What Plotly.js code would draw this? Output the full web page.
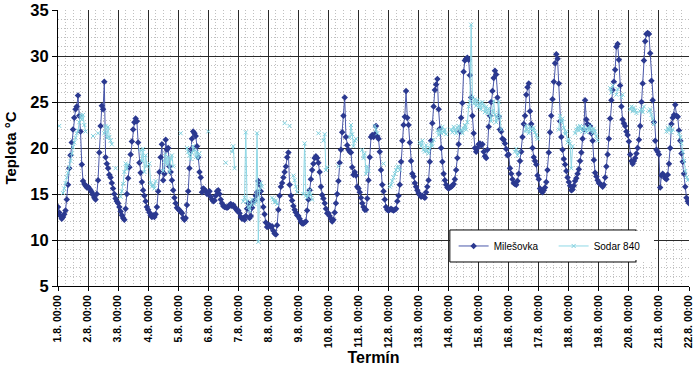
<!DOCTYPE html>
<html>
<head>
<meta charset="utf-8">
<script src="https://cdn.plot.ly/plotly-3.0.1.min.js"></script>
<style>html,body{margin:0;padding:0;background:#fff;}#chart{width:699px;height:366px;}</style>
</head>
<body>
<div id="chart"></div>
<script>
// Tick labels (one per day, hourly data)
const dayLabels = ["1.8. 00:00","2.8. 00:00","3.8. 00:00","4.8. 00:00","5.8. 00:00","6.8. 00:00","7.8. 00:00","8.8. 00:00","9.8. 00:00","10.8. 00:00","11.8. 00:00","12.8. 00:00","13.8. 00:00","14.8. 00:00","15.8. 00:00","16.8. 00:00","17.8. 00:00","18.8. 00:00","19.8. 00:00","20.8. 00:00","21.8. 00:00","22.8. 00:00"];

// Milešovka hourly temperatures, day by day
const mil01 = [13.6,13.0,12.6,12.3,12.5,12.8,13.2,14.4,16.0,17.8,19.2,20.6,22.0,23.3,24.2,24.5,25.7,23.5,21.8,18.2,16.4,16.1,15.9,15.7];
const mil02 = [15.8,15.6,15.4,15.2,14.9,14.6,14.4,15.0,16.5,19.5,22.4,24.6,24.2,27.2,19.0,18.3,17.8,17.1,16.8,16.2,15.6,15.0,14.5,14.2];
const mil03 = [14.0,13.6,13.1,12.7,12.4,12.2,13.4,15.0,16.7,17.9,19.3,20.7,22.0,22.8,23.2,22.9,20.6,18.4,17.3,16.3,15.4,14.8,14.2,13.6];
const mil04 = [13.3,13.0,12.7,12.5,12.7,12.5,12.8,13.6,15.3,17.4,19.0,20.4,16.5,17.2,20.9,19.8,20.0,18.0,17.4,16.5,15.4,14.6,14.0,13.5];
const mil05 = [13.4,13.2,13.1,12.9,12.4,12.2,12.4,13.8,15.3,17.8,19.8,21.0,21.8,21.6,21.3,20.2,19.0,17.4,16.8,15.2,15.6,15.5,15.3,15.0];
const mil06 = [15.2,15.3,14.7,14.4,14.2,14.3,14.8,15.3,15.4,15.0,14.4,14.0,13.7,13.6,13.6,13.5,13.6,13.8,13.9,13.7,13.8,13.6,13.4,13.2];
const mil07 = [13.2,12.9,12.5,12.3,12.4,12.2,12.6,13.4,14.0,12.4,12.6,13.5,14.2,14.3,14.8,15.2,16.4,16.0,15.3,14.4,13.6,12.8,11.9,11.4];
const mil08 = [11.5,11.6,11.4,11.5,11.0,10.7,10.6,11.6,13.3,14.8,15.8,16.2,16.8,17.4,18.0,19.0,19.5,16.0,14.8,14.3,13.7,13.3,13.0,12.7];
const mil09 = [12.6,12.3,12.0,11.8,11.8,11.9,12.0,13.2,14.4,15.4,16.6,17.6,18.3,18.9,19.1,18.9,18.4,17.4,15.8,14.9,14.5,14.0,13.4,12.9];
const mil10 = [12.9,12.6,12.3,12.0,12.2,13.0,14.0,15.0,16.4,18.4,19.8,21.7,23.5,25.5,21.2,20.3,19.8,19.6,19.5,17.9,17.1,17.4,17.0,15.8];
const mil11 = [15.6,15.2,14.6,14.0,13.6,13.3,13.3,14.5,16.5,19.0,21.2,21.4,21.2,21.5,22.4,21.3,21.0,19.6,17.6,16.0,15.3,14.4,13.6,13.3];
const mil12 = [13.2,13.3,13.4,13.3,13.2,13.3,13.4,14.2,14.8,16.0,18.5,20.8,22.5,23.4,26.2,23.3,22.5,20.6,18.6,17.2,16.9,16.2,15.8,15.4];
const mil13 = [15.1,14.9,14.7,14.8,14.7,14.6,15.2,15.8,16.5,18.5,20.8,22.7,24.5,26.3,26.9,27.5,24.2,22.1,20.0,18.5,17.2,16.5,16.0,15.7];
const mil14 = [15.6,15.7,15.8,15.9,16.1,16.6,17.6,18.9,20.4,21.8,23.3,24.9,28.3,29.5,29.7,29.8,29.6,27.9,25.5,23.5,21.6,20.0,19.6,20.0];
const mil15 = [20.4,20.5,20.3,20.4,19.6,19.1,18.9,19.8,22.3,23.5,25.0,26.2,27.6,28.4,28.0,25.5,23.4,22.0,21.8,21.0,20.9,20.5,19.9,19.2];
const mil16 = [19.3,17.8,17.2,16.6,16.2,16.1,16.0,16.4,17.2,18.6,19.6,21.2,22.6,23.5,25.8,26.6,27.0,24.0,22.6,20.0,19.0,18.6,18.2,17.0];
const mil17 = [16.6,15.6,15.3,15.2,15.4,15.7,16.3,17.6,19.5,21.7,23.5,25.3,27.2,29.2,30.2,29.7,27.0,22.9,21.2,19.8,18.8,18.2,17.5,16.8];
const mil18 = [16.3,15.9,15.4,15.5,15.9,16.4,16.7,17.2,17.7,18.6,19.5,21.0,22.0,25.2,23.1,22.6,22.4,22.4,21.6,20.8,18.7,17.3,16.9,16.5];
const mil19 = [16.2,16.1,16.0,15.8,16.0,16.8,18.0,19.3,21.0,23.2,25.2,26.3,27.2,28.5,31.0,31.3,29.6,26.8,24.5,23.1,22.7,22.4,21.8,21.4];
const mil20 = [20.7,19.3,18.6,18.3,18.6,18.9,19.4,20.0,20.9,22.4,25.0,27.0,29.5,31.6,32.4,32.5,32.4,30.3,27.3,25.2,22.8,20.8,19.8,19.6];
const mil21 = [19.3,15.7,17.0,17.2,17.0,16.7,16.6,17.1,18.3,20.0,22.6,23.3,23.6,24.7,23.5,23.4,21.9,20.8,19.4,18.5,17.2,15.8,14.6,14.2];
const milLast = [14.0];

// Sodar 840: start hour of each measured run, and the run's values
const sodarStart = [1,4,28,32,37,46,50,66,73,84,98,103,120,134,139,148,157,171,181,185,188,196,208,212,224,233,243,253,260,265,289,303,314,327,352,365,373,400,413,441,446,450,457,465,472,486,496];
const sodarRuns = [
 [22.4],
 [15.1,15.6,16.2,16.8,17.3,17.9,18.6,19.4,20.1,20.6,21.1,21.6,21.9,22.8,23.6,23.1,23.6,22.5,21.8],
 [21.3],
 [21.6],
 [21.6,22.4,21.1,22.3,21.2,20.8,20.4],
 [17.8],
 [14.7,15.3,16.1,17.4,18.3,17.7,18.2],
 [19.8,18.6,19.9,17.4,19.2,18.0],
 [18.3,16.2,15.8,16.0,15.6,16.4],
 [17.5,18.6,19.3,18.2,19.0,17.4,18.8,19.2,18.0],
 [21.6],
 [20.0,19.6,19.2,18.8,19.5,20.2,19.8,19.0,19.6,18.9,19.4],
 [21.8],
 [18.4],
 [19.6,20.2,17.8],
 [14.2,14.6,21.7,14.2,13.6,13.2,13.8,14.4],
 [13.9,14.3,21.6,9.8,15.4,16.2,15.8],
 [14.6,14.4,14.1,14.3,13.9],
 [22.7],
 [22.4],
 [17.0,16.5,15.8,15.2],
 [15.0,20.5,14.8,14.6,15.0,15.4,14.9,14.4],
 [21.6],
 [20.8,21.5,17.6,17.9],
 [18.0],
 [21.2,22.5,21.5,20.2,20.8,21.0],
 [19.8,18.9,19.4,17.2,18.0,17.5],
 [22.4,22.0,21.6],
 [18.3],
 [15.8,16.0,16.4,16.8,17.2,17.6,17.9,18.0,17.6],
 [20.6,20.2,20.8,19.8,19.6,20.3,19.7,19.4,20.0,20.5,20.2,20.9],
 [21.9,21.4,22.0,21.6,22.3,21.7,22.0,21.5],
 [22.0,21.7,22.3,21.9,21.6,22.2,22.4,21.8,22.0,21.6,22.1,22.5,22.0],
 [22.8,24.5,25.0,33.4,25.5,24.8,25.3,24.6,25.2,24.4,24.9,24.2,25.0,24.6,23.9,24.5,23.8,24.3,23.5,22.9,24.0,25.1,23.6,22.8,23.2],
 [25.0,23.4,22.0],
 [19.6,19.9,19.2,19.5],
 [21.8,22.4,22.0,21.6,22.3,22.1,21.9,22.2,21.7,21.4,21.0],
 [22.0,23.5,22.8,23.2,22.2,21.5,21.8,20.6,21.0,20.5,17.8,20.2],
 [21.6,22.0,22.3,21.9,22.4,22.1,21.8,22.3,22.0,21.7,22.2,21.9,22.4,22.0,21.6,22.1,21.8,21.3,20.8],
 [26.5,26.0,26.8],
 [25.8,26.4],
 [25.5,25.8],
 [24.2,24.5,24.0,24.4,24.1,23.8],
 [24.0,24.2,23.9,24.5],
 [24.0,24.2,23.6,23.2,22.6],
 [21.8,22.2,21.9,22.3,21.7,22.0],
 [21.6,21.2,20.5,19.6,18.6,17.5,16.8,16.5,16.6]
];

const milesovka = [].concat(mil01,mil02,mil03,mil04,mil05,mil06,mil07,mil08,mil09,mil10,mil11,mil12,mil13,mil14,mil15,mil16,mil17,mil18,mil19,mil20,mil21,milLast);
const hours = milesovka.map((_, i) => i);
const sodar = hours.map(() => null);
sodarStart.forEach((s, k) => sodarRuns[k].forEach((v, j) => { sodar[s + j] = v; }));
const tickHours = dayLabels.map((_, i) => i * 24);

const FONT = "'Liberation Sans', Arial, sans-serif";

const traces = [
  {
    x: hours, y: milesovka, name: 'Milešovka', type: 'scatter', mode: 'lines+markers',
    line: {color: '#4a58aa', width: 1},
    marker: {symbol: 'diamond', size: 5, color: '#2b3990'}
  },
  {
    x: hours, y: sodar, name: 'Sodar 840', type: 'scatter', mode: 'lines+markers',
    connectgaps: false,
    line: {color: '#8fd8e6', width: 1},
    marker: {symbol: 'x-thin', size: 4, color: '#7fd0de', line: {color: '#7fd0de', width: 1}}
  }
];

const layout = {
  width: 699, height: 366,
  margin: {l: 58, r: 10, t: 10, b: 80},
  paper_bgcolor: '#ffffff', plot_bgcolor: '#ffffff',
  showlegend: true,
  font: {family: FONT, color: '#000'},
  xaxis: {
    range: [0, 504], tickmode: 'array', tickvals: tickHours, ticktext: dayLabels,
    tickangle: -90, tickfont: {family: FONT, size: 10.5, color: '#000', weight: 'bold'},
    showgrid: true, gridcolor: '#2a2a2a', gridwidth: 1,
    showline: true, linecolor: '#000', linewidth: 1, mirror: false,
    ticks: 'outside', ticklen: 4, tickcolor: '#000',
    zeroline: false,
    minor: {dtick: 6, tick0: 0, showgrid: true, gridcolor: '#c0c0c0', griddash: '1px,2px', gridwidth: 1, ticklen: 0},
    title: {text: 'Termín', font: {family: FONT, size: 16, weight: 'bold', color: '#000'}, standoff: 4}
  },
  yaxis: {
    range: [5, 35], dtick: 5, tick0: 5,
    tickfont: {family: FONT, size: 16.5, color: '#000', weight: 'bold'},
    showgrid: true, gridcolor: '#2a2a2a', gridwidth: 1,
    showline: true, linecolor: '#000', linewidth: 1,
    ticks: 'outside', ticklen: 5, tickcolor: '#000',
    zeroline: false,
    minor: {dtick: 1, showgrid: true, gridcolor: '#c0c0c0', griddash: '1px,2px', gridwidth: 1, ticklen: 0},
    title: {text: 'Teplota °C', font: {family: FONT, size: 15, weight: 'bold', color: '#000'}, standoff: 10}
  },
  shapes: [
    {type: 'rect', xref: 'paper', yref: 'paper', x0: 0.621, x1: 0.916, y0: 0.087, y1: 0.203,
     fillcolor: '#ffffff', line: {color: '#000', width: 1}, layer: 'above'}
  ],
  legend: {
    orientation: 'h', x: 0.627, xanchor: 'left', y: 0.145, yanchor: 'middle',
    bgcolor: '#ffffff', borderwidth: 0,
    font: {family: FONT, size: 10, color: '#000'},
    entrywidth: 55, entrywidthmode: 'pixels', traceorder: 'normal'
  }
};

Plotly.newPlot('chart', traces, layout, {displayModeBar: false, staticPlot: true});
</script>
</body>
</html>
